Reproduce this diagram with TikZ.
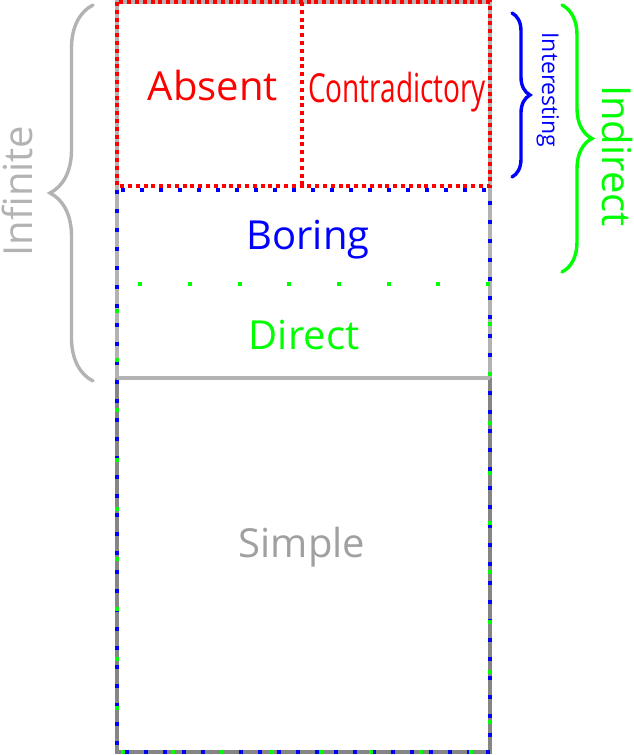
\documentclass[tikz,border=0pt]{standalone}
\usepackage{fontspec}
\setmainfont{Open Sans}
\usepackage{tikz}
\usetikzlibrary{decorations.pathreplacing}
\definecolor{setRed}{HTML}{FF0000}
\definecolor{setBlue}{HTML}{0000FF}
\definecolor{setGreen}{HTML}{00FF00}
\definecolor{setGray}{HTML}{B3B3B3}
\definecolor{setDark}{HTML}{858585}
\definecolor{setText}{HTML}{A0A0A0}
\tikzset{
  bigtxt/.style={font=\fontsize{40}{48}\selectfont, inner sep=0pt, anchor=base},
  smalltxt/.style={font=\fontsize{23}{27}\selectfont, inner sep=0pt, anchor=base},
  grayline/.style={draw=setGray, line width=3.5pt},
  darkline/.style={draw=setDark, line width=3.5pt},
  reddots/.style={draw=setRed, line width=4pt, dash pattern=on 4pt off 3.8pt},
  bluedots/.style={draw=setBlue, line width=3.5pt, dash pattern=on 4pt off 15pt},
  greendots/.style={draw=setGreen, line width=3.5pt, dash pattern=on 4pt off 45.7pt},
  setbrace/.style={decorate, line width=3.4pt, line cap=round, decoration={brace, amplitude=#1}}
}
\begin{document}
\begin{tikzpicture}[x=1pt,y=-1pt]
  \useasboundingbox (0,0) rectangle (634,755);
  \draw[grayline] (117,2) rectangle (490,378);
  \draw[darkline] (117,378) -- (117,752) -- (490,752) -- (490,378);
  \draw[grayline] (117,378) -- (490,378);
  \draw[bluedots] (117,190) rectangle (490,752);
  \draw[greendots] (490,284) -- (117,284) -- (117,752) -- (490,752) -- cycle;
  \draw[reddots] (117,2) rectangle (490,186);
  \draw[reddots, line width=4.5pt] (302,2) -- (302,186);

  \node[bigtxt, text=setRed] (absent) at (213,100) {Absent};
  \node[bigtxt, text=setRed] (contra) at (397,102) {\scalebox{0.7}[1]{Contradictory}};
  \node[bigtxt, text=setBlue] (boring) at (308,249) {Boring};
  \node[bigtxt, text=setGreen] (direct) at (304,349) {Direct};
  \node[bigtxt, text=setText] (simple) at (302,557) {Simple};
  \node[bigtxt, text=setGray, rotate=90] (infinite) at (32,191) {Infinite};
  \node[bigtxt, text=setGreen, rotate=-90] (indirect) at (602,156) {Indirect};
  \node[smalltxt, text=setBlue, rotate=-90] (interesting) at (542,90) {Interesting};

  \coordinate (infbot) at (93,381);
  \coordinate (inftop) at (93,5);
  \coordinate (inttop) at (512,13);
  \coordinate (intbot) at (512,177);
  \coordinate (indtop) at (562,5);
  \coordinate (indbot) at (562,272);
  \draw[setbrace=43pt, draw=setGray] (infbot) -- (inftop);
  \draw[setbrace=18pt, draw=setBlue] (inttop) -- (intbot);
  \draw[setbrace=30pt, draw=setGreen] (indtop) -- (indbot);
\end{tikzpicture}
\end{document}
